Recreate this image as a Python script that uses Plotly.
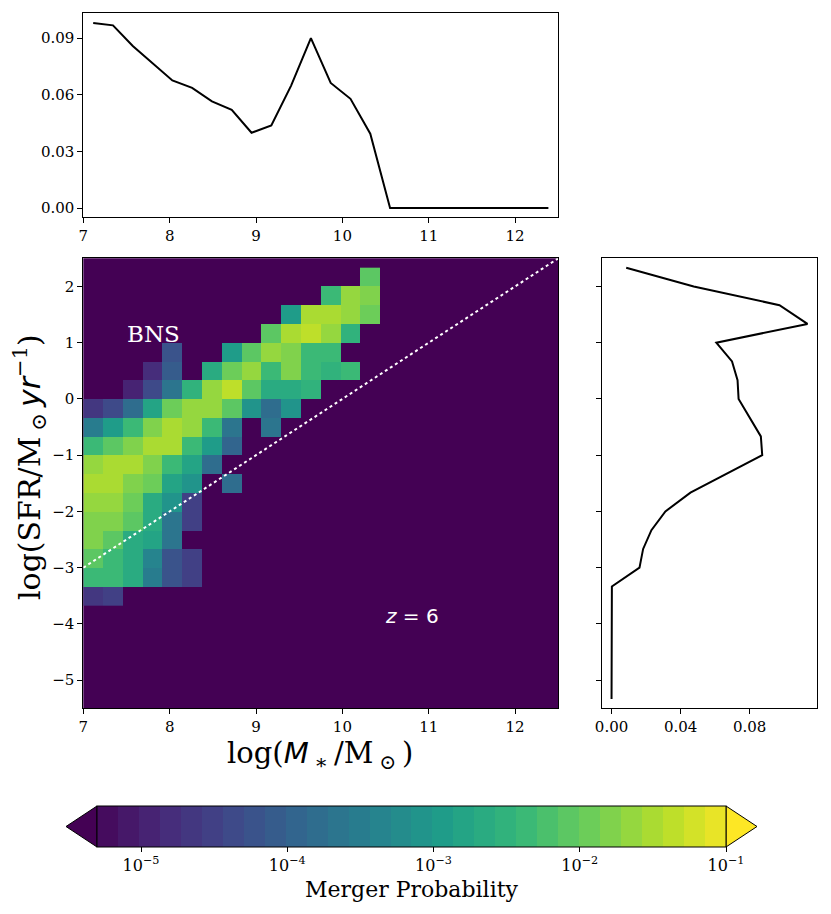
import numpy as np
import plotly.graph_objects as go
from plotly.colors import sample_colorscale

# binning of the 2D histogram (24 x 24)
mass_edges = np.linspace(7.0, 12.5, 25)
sfr_edges = np.linspace(-5.5, 2.5, 25)
mass_centers = 0.5 * (mass_edges[1:] + mass_edges[:-1])
sfr_centers = 0.5 * (sfr_edges[1:] + sfr_edges[:-1])

# log10(merger probability) per cell, rows listed from the TOP (logSFR=2.33) down; None = empty
N = None
log_prob_rows = [
    [N, N, N, N, N, N, N, N, N, N, N, N, N, N, -2.1],
    [N, N, N, N, N, N, N, N, N, N, N, N, -2.3, -1.65, -1.85],
    [N, N, N, N, N, N, N, N, N, N, -3.0, -1.45, -1.5, -1.6, -2.0],
    [N, N, N, N, N, N, N, N, N, -2.1, -1.5, -1.3, -1.65, -2.45],
    [N, N, N, N, -4.2, N, N, -3.0, -2.1, -1.6, -1.85, -2.3, -2.4],
    [N, N, N, -4.75, -4.05, N, -2.7, -1.9, -1.6, -2.3, -1.85, -2.3, -2.45, -2.3],
    [N, N, -5.0, -4.4, -3.6, -2.45, -1.65, -1.4, -2.1, -2.7, -2.7, -2.45],
    [-4.6, -4.4, -3.75, -2.8, -2.0, -1.6, -1.6, -2.1, -3.05, -3.75, -3.05],
    [-3.5, -3.0, -2.4, -1.8, -1.45, -1.6, -2.3, -3.6, N, -3.6],
    [-2.3, -2.1, -1.8, -1.55, -1.55, -2.3, -3.0, -3.9],
    [-1.65, -1.55, -1.55, -1.8, -2.3, -2.8, -3.75],
    [-1.45, -1.5, -1.8, -2.0, -2.8, -3.15, N, -3.75],
    [-1.7, -1.7, -2.0, -2.65, -3.1, -4.45],
    [-1.85, -1.85, -2.1, -2.7, -3.7, -4.45],
    [-1.85, -2.1, -2.65, -2.8, -3.7],
    [-2.1, -2.3, -2.7, -3.3, -4.2, -4.5],
    [-2.3, -2.3, -2.7, -3.45, -4.2, -4.5],
    [-4.6, -4.45],
]

# marginal: merger probability per stellar-mass bin (top panel)
mass_prob = [0.0981, 0.0968, 0.0859, 0.0768, 0.0676, 0.0637, 0.0565, 0.0521,
             0.0399, 0.0438, 0.0649, 0.0900, 0.0663, 0.0579, 0.0394, 0.0,
             0.0, 0.0, 0.0, 0.0, 0.0, 0.0, 0.0, 0.0]

# marginal: merger probability per SFR bin, bottom (-5.33) to top (2.33) (right panel)
sfr_prob = [0.0, 0.0, 0.0, 0.0, 0.0, 0.0, 0.0002, 0.0162, 0.0183, 0.0231,
            0.0312, 0.0457, 0.0663, 0.0873, 0.0865, 0.0803, 0.0736, 0.0730,
            0.0698, 0.0607, 0.1135, 0.0973, 0.0476, 0.0085]

# main-sequence style cut, log sSFR = -10
ssfr_cut = -10.0
cut_mass = [7.0, 12.5]

cbar_ticks = [-5, -4, -3, -2, -1]

# ---- build the full grid (top row first) ----
z = []
for row in log_prob_rows:
    z.append(list(row) + [None] * (24 - len(row)))
sfr_desc = list(sfr_centers[::-1])

# stepped viridis, 30 levels, like a BoundaryNorm colorbar with extend='both'
zmin, zmax = np.log10(5e-6), -1.0
nlev = 30
band_cols = sample_colorscale('Viridis', [(i + 1) / (nlev + 1) for i in range(nlev)])
cscale = []
for i, c in enumerate(band_cols):
    cscale.append([i / nlev, c])
    cscale.append([(i + 1) / nlev, c])

# the page body keeps its default 8px margin, so the figure is drawn 8px in
OFF = 8
W, H = 831 - OFF, 914 - OFF
serif = "DejaVu Serif"
tickfont = dict(family=serif, size=15, color="black")


def px(xp):
    return (xp - OFF) / W


def py(yp):
    return 1 - (yp - OFF) / H


fig = go.Figure()

fig.add_trace(go.Heatmap(
    x=mass_centers, y=sfr_desc, z=z,
    zmin=zmin, zmax=zmax, colorscale=cscale, zsmooth=False,
    hoverongaps=False,
    colorbar=dict(
        orientation='h', x=px(411.5), xanchor='center',
        y=py(806), yanchor='top', yref='paper',
        len=629, lenmode='pixels', thickness=41, thicknessmode='pixels',
        xpad=0, ypad=0, outlinecolor='black', outlinewidth=1,
        tickvals=cbar_ticks,
        ticktext=[f"10<sup>\u2212{-t}</sup>" for t in cbar_ticks],
        ticks='outside', ticklen=5, tickcolor='black',
        tickfont=dict(family=serif, size=16, color='black'),
        title=dict(text="Merger Probability", side='bottom',
                   font=dict(family=serif, size=22, color='black')),
    ),
    xaxis='x', yaxis='y',
))

fig.add_trace(go.Scatter(
    x=cut_mass, y=[m + ssfr_cut for m in cut_mass], mode='lines',
    line=dict(color='white', width=2, dash='dot'),
    xaxis='x', yaxis='y', showlegend=False,
))

fig.add_trace(go.Scatter(
    x=mass_centers, y=mass_prob, mode='lines',
    line=dict(color='black', width=2),
    xaxis='x2', yaxis='y2', showlegend=False,
))

fig.add_trace(go.Scatter(
    x=sfr_prob, y=sfr_centers, mode='lines',
    line=dict(color='black', width=2),
    xaxis='x3', yaxis='y3', showlegend=False,
))

axis_style = dict(showline=True, linecolor='black', linewidth=1, mirror=True,
                  ticks='outside', ticklen=5, tickcolor='black', tickwidth=1,
                  showgrid=False, zeroline=False, tickfont=tickfont,
                  automargin=False)

main_x = [px(83.3), px(558.3)]
main_y = [py(708.3), py(258.3)]

fig.update_layout(
    width=W, height=H,
    margin=dict(l=0, r=0, t=0, b=0, autoexpand=False),
    paper_bgcolor='white', plot_bgcolor='rgba(0,0,0,0)',
    showlegend=False,
    xaxis=dict(domain=main_x, range=[7, 12.5], tickvals=[7, 8, 9, 10, 11, 12],
               anchor='y', **axis_style),
    yaxis=dict(domain=main_y, range=[-5.5, 2.5], tickvals=list(range(-5, 3)),
               ticktext=[f"\u2212{-v}" if v < 0 else str(v) for v in range(-5, 3)],
               anchor='x', **axis_style),
    xaxis2=dict(domain=main_x, range=[7, 12.5], tickvals=[7, 8, 9, 10, 11, 12],
                anchor='y2', **axis_style),
    yaxis2=dict(domain=[py(217.3), py(13.3)], range=[-0.0049, 0.1032],
                tickvals=[0, 0.03, 0.06, 0.09], tickformat='.2f',
                anchor='x2', **axis_style),
    xaxis3=dict(domain=[px(601.7), px(817.3)], range=[-0.0057, 0.1192],
                tickvals=[0, 0.04, 0.08], tickformat='.2f',
                anchor='y3', **axis_style),
    yaxis3=dict(domain=main_y, range=[-5.5, 2.5], tickvals=list(range(-5, 3)),
                showticklabels=False, anchor='x3', **axis_style),
)

# empty cells show the colormap's "under" colour
fig.add_shape(type='rect', xref='x domain', yref='y domain', x0=0, x1=1, y0=0, y1=1,
              fillcolor='#440154', line=dict(width=0), layer='below')

# colorbar extension triangles
fig.add_shape(type='path', xref='paper', yref='paper',
              path=f"M {px(66)} {py(826.5)} L {px(97)} {py(806)} L {px(97)} {py(847)} Z",
              fillcolor='#440154', line=dict(color='black', width=1))
fig.add_shape(type='path', xref='paper', yref='paper',
              path=f"M {px(726)} {py(806)} L {px(757)} {py(826.5)} L {px(726)} {py(847)} Z",
              fillcolor='#fde725', line=dict(color='black', width=1))

sans_i = "font-family:'DejaVu Sans';font-style:italic"
thin = "\u2009"
fig.add_annotation(
    x=px(320), y=py(755), xref='paper', yref='paper', showarrow=False,
    xanchor='center', yanchor='middle',
    text=(f"log(<span style=\"{sans_i}\">M</span>{thin}<sub>\u2217</sub>{thin}/"
          f"M{thin}<sub>\u2299</sub>{thin})"),
    font=dict(family=serif, size=29, color='black'))
fig.add_annotation(
    x=px(29), y=py(467), xref='paper', yref='paper', showarrow=False, textangle=-90,
    xanchor='center', yanchor='middle',
    text=(f"log(SFR/M{thin}<sub>\u2299</sub>{thin}<span style=\"{sans_i}\">yr</span>"
          f"<sup>\u22121</sup>)"),
    font=dict(family=serif, size=30, color='black'))
fig.add_annotation(x=7.81, y=1.15, xref='x', yref='y', showarrow=False, text="BNS",
                   xanchor='center', yanchor='middle',
                   font=dict(family=serif, size=23, color='white'))
fig.add_annotation(x=10.81, y=-3.86, xref='x', yref='y', showarrow=False,
                   xanchor='center', yanchor='middle',
                   text="<i>z</i> = 6",
                   font=dict(family="DejaVu Sans", size=20, color='white'))

fig.write_html("out.html")
